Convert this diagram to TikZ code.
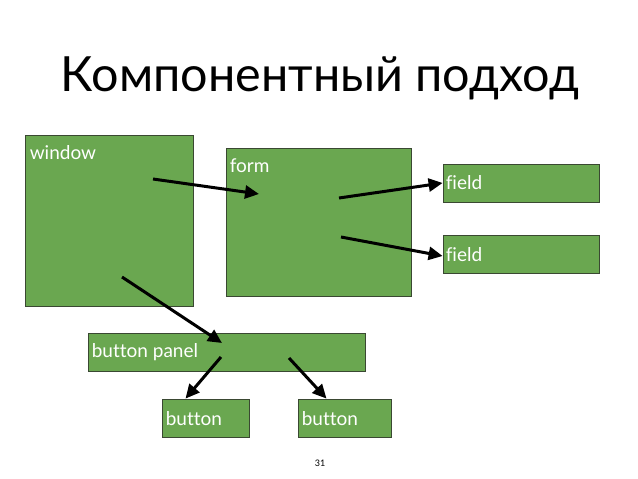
\documentclass[tikz,border=0pt]{standalone}
\usepackage{fontspec}
\setmainfont{Lato}[Ligatures=NoCommon]
\usepackage{tikz}
\usetikzlibrary{arrows.meta}

\definecolor{boxgreen}{RGB}{106,167,80}
\definecolor{boxedge}{RGB}{58,72,50}

\tikzset{
  comp/.style={draw=boxedge,fill=boxgreen,line width=0.8pt,inner sep=0pt},
  complabel/.style={anchor=base west,text=white,font=\fontsize{19}{21}\selectfont,inner sep=0pt},
  link/.style={line width=3pt,-{Triangle[length=14pt,width=13pt]}}
}

\begin{document}
\begin{tikzpicture}[x=1pt,y=-1pt]
\useasboundingbox[fill=white] (0,0) rectangle (638,479);

\node at (320,78) (title) {\fontsize{48.5}{52}\selectfont Компонентный подход};

\node[comp,minimum width=168pt,minimum height=171pt] at (109,220.5) (window) {};
\node[comp,minimum width=185pt,minimum height=148pt] at (318.5,222) (form) {};
\node[comp,minimum width=156pt,minimum height=38pt] at (521,183) (field1) {};
\node[comp,minimum width=156pt,minimum height=38pt] at (521,254) (field2) {};
\node[comp,minimum width=277pt,minimum height=38pt] at (226.5,352) (panel) {};
\node[comp,minimum width=87pt,minimum height=38pt] at (205.5,418) (button1) {};
\node[comp,minimum width=93pt,minimum height=38pt] at (344.5,418) (button2) {};

\node[complabel] at ([xshift=5pt,yshift=-25pt]window.north west) (windowtext) {window};
\node[complabel] at ([xshift=4pt,yshift=-25pt]form.north west) (formtext) {form};
\node[complabel] at ([xshift=3pt,yshift=-26pt]field1.north west) (field1text) {field};
\node[complabel] at ([xshift=3pt,yshift=-27pt]field2.north west) (field2text) {field};
\node[complabel] at ([xshift=4pt,yshift=-25pt]panel.north west) (paneltext) {button panel};
\node[complabel] at ([xshift=4pt,yshift=-27pt]button1.north west) (button1text) {button};
\node[complabel] at ([xshift=4pt,yshift=-27pt]button2.north west) (button2text) {button};

\node at (320,463) (pagenum) {\fontsize{9}{10}\selectfont 31};

\coordinate (w1) at (153,179);
\coordinate (w2) at (122,277);
\coordinate (f0) at (259,194);
\coordinate (f1) at (339,198);
\coordinate (f2) at (341,237);
\coordinate (p0) at (222,343);
\coordinate (p1) at (221,357);
\coordinate (p2) at (289,358);

\draw[link] (w1) -- (f0);
\draw[link] (f1) -- (field1.west);
\draw[link] (f2) -- ([yshift=-2pt]field2.west);
\draw[link] (w2) -- (p0);
\draw[link] (p1) -- ([xshift=-20pt]button1.north);
\draw[link] (p2) -- ([xshift=-18pt]button2.north);
\end{tikzpicture}
\end{document}
